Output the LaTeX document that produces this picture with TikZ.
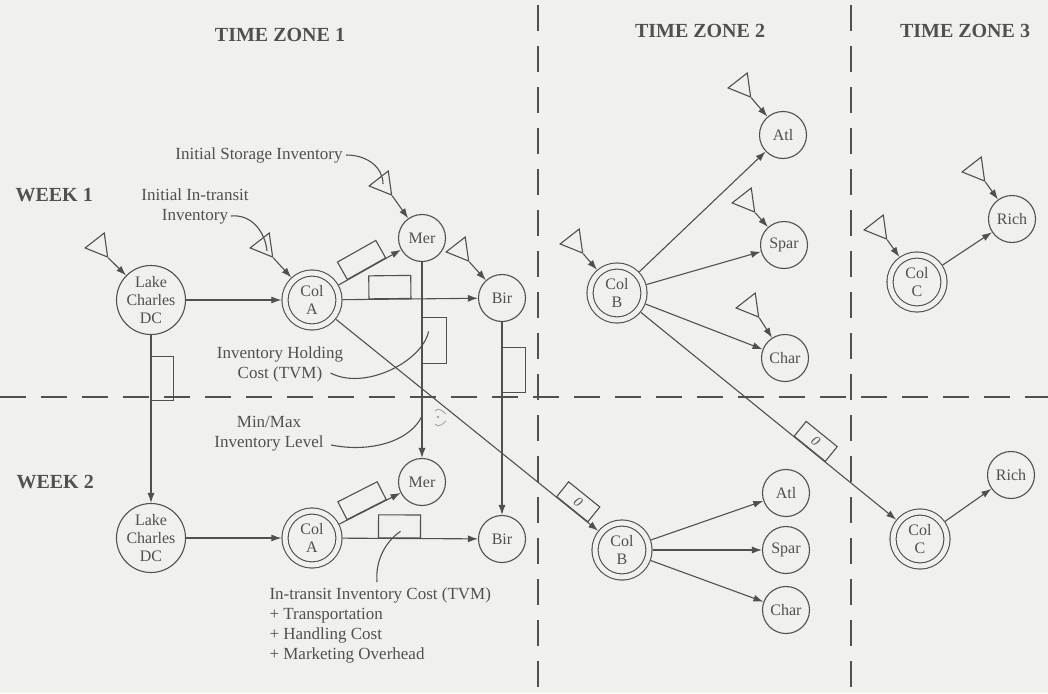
\documentclass[tikz,border=0pt]{standalone}
\usepackage{fontspec}
\setmainfont{Liberation Serif}
\usetikzlibrary{arrows.meta,positioning,shapes.geometric,calc}
\definecolor{ink}{RGB}{80,80,80}
\definecolor{paper}{RGB}{240,240,237}
\begin{document}
\begin{tikzpicture}[
    x=1pt, y=-1pt,
    every node/.style={font=\fontsize{16}{18}\selectfont, text=ink},
    site/.style={draw=ink, circle, line width=1.1pt, minimum size=47pt,
                 inner sep=0pt, align=center},
    dc/.style={site, minimum size=69pt},
    hub/.style={site, double=paper, double distance=5pt, minimum size=54pt,
                outer sep=3.6pt},
    stock/.style={draw=ink, line width=1.1pt, regular polygon,
                  regular polygon sides=3, rotate=98, minimum size=28pt,
                  inner sep=0pt},
    cost/.style={draw=ink, line width=1.1pt, sloped, above, allow upside down,
                 minimum width=44pt, minimum height=22pt, inner sep=0pt,
                 font=\fontsize{14}{14}\selectfont\itshape},
    note/.style={align=center, font=\fontsize{17}{20}\selectfont},
    title/.style={font=\fontsize{20}{22}\selectfont\bfseries},
    arrow/.style={-{Latex[length=10pt,width=7pt]}, draw=ink, line width=1.1pt},
    lead/.style={draw=ink, line width=1.1pt},
    divider/.style={draw=ink, line width=2.3pt, dash pattern=on 26pt off 15pt},
  ]
  \fill[paper] (0,0) rectangle (1048,693);
  \useasboundingbox (0,0) rectangle (1048,693);

  \draw[divider] (538,5) -- (538,693);
  \draw[divider] (851,5) -- (851,693);
  \draw[divider] (0,397) -- (1048,397);

  \node[title] (tz1) at (280,35) {TIME ZONE 1};
  \node[title] (tz2) at (700,31) {TIME ZONE 2};
  \node[title] (tz3) at (965,31) {TIME ZONE 3};
  \node[title, anchor=west] (wk1) at (12,195) {WEEK 1};
  \node[title, anchor=west] (wk2) at (13,482) {WEEK 2};

  % week 1
  \node[dc] (lake1) at (151,300) {Lake\\Charles\\DC};
  \node[hub] (colA1) at (312,300) {Col\\A};
  \node[site] (mer1) at (422,238) {Mer};
  \node[site] (bir1) at (502,298) {Bir};
  \node[hub] (colB1) at (617,293) {Col\\B};
  \node[site] (atl1) at (783,135) {Atl};
  \node[site] (spar1) at (784,245) {Spar};
  \node[site] (char1) at (785,358) {Char};
  \node[hub] (colC1) at (917,282) {Col\\C};
  \node[site] (rich1) at (1012,219) {Rich};

  % week 2
  \node[dc] (lake2) at (151,538) {Lake\\Charles\\DC};
  \node[hub] (colA2) at (312,538) {Col\\A};
  \node[site] (mer2) at (422,482) {Mer};
  \node[site] (bir2) at (502,539) {Bir};
  \node[hub] (colB2) at (622,550) {Col\\B};
  \node[site] (atl2) at (786,493) {Atl};
  \node[site] (spar2) at (786,550) {Spar};
  \node[site] (char2) at (786,610) {Char};
  \node[hub] (colC2) at (920,539) {Col\\C};
  \node[site] (rich2) at (1011,475) {Rich};

  % starting inventories
  \node[stock] (slake1) at (99,246) {};
  \node[stock] (scolA1) at (264,246) {};
  \node[stock] (smer1) at (383,184) {};
  \node[stock] (sbir1) at (460,250) {};
  \node[stock] (scolB1) at (574,242) {};
  \node[stock] (satl1) at (742,86) {};
  \node[stock] (sspar1) at (746,201) {};
  \node[stock] (schar1) at (750,306) {};
  \node[stock] (scolC1) at (878,228) {};
  \node[stock] (srich1) at (976,170) {};
  \draw[arrow] (slake1.corner 2) -- (lake1);
  \draw[arrow] (scolA1.corner 2) -- (colA1);
  \draw[arrow] (smer1.corner 2) -- (mer1);
  \draw[arrow] (sbir1.corner 2) -- (bir1);
  \draw[arrow] (scolB1.corner 2) -- (colB1);
  \draw[arrow] (satl1.corner 2) -- (atl1);
  \draw[arrow] (sspar1.corner 2) -- (spar1);
  \draw[arrow] (schar1.corner 2) -- (char1);
  \draw[arrow] (scolC1.corner 2) -- (colC1);
  \draw[arrow] (srich1.corner 2) -- (rich1);

  \draw[arrow] (lake1) -- (colA1);
  \draw[arrow] (colA1) -- node[cost, pos=0.45, minimum height=20pt] (cam1) {} (mer1);
  \draw[arrow] (colA1) -- node[cost, pos=0.35, minimum width=42pt, minimum height=23pt] (cab1) {} (bir1);
  \draw[arrow] (colA1) -- node[cost, pos=0.9, minimum width=40pt, minimum height=19pt] (zab) {0} (colB2);
  \draw[arrow] (colB1) -- (atl1);
  \draw[arrow] (colB1) -- (spar1);
  \draw[arrow] (colB1) -- (char1);
  \draw[arrow] (colB1) -- node[cost, pos=0.66, minimum width=40pt, minimum height=19pt] (zbc) {0} (colC2);
  \draw[arrow] (colC1) -- (rich1);

  % carried over to week 2
  \draw[arrow] (lake1) -- node[cost, pos=0.26] (hlake) {} (lake2);
  \draw[arrow] (mer1) -- node[cost, pos=0.4, minimum width=46pt, minimum height=24pt] (hmer) {} (mer2);
  \draw[arrow] (bir1) -- node[cost, pos=0.25, minimum width=45pt, minimum height=23pt] (hbir) {} (bir2);

  \draw[arrow] (lake2) -- (colA2);
  \draw[arrow] (colA2) -- node[cost, pos=0.45, minimum height=20pt] (cam2) {} (mer2);
  \draw[arrow] (colA2) -- node[cost, pos=0.42, minimum width=42pt, minimum height=23pt] (cab2) {} (bir2);
  \draw[arrow] (colB2) -- (atl2);
  \draw[arrow] (colB2) -- (spar2);
  \draw[arrow] (colB2) -- (char2);
  \draw[arrow] (colC2) -- (rich2);

  % callouts
  \node[note] (storage) at (259,155) {Initial Storage Inventory};
  \node[note] (intransit) at (195,206) {Initial In-transit\\Inventory};
  \node[note] (holding) at (280,364) {Inventory Holding\\Cost (TVM)};
  \node[note] (minmax) at (269,434) {Min/Max\\Inventory Level};
  \node[note, align=left, anchor=north west] (transit) at (266,584)
    {In-transit Inventory Cost (TVM)\\+ Transportation\\+ Handling Cost\\+ Marketing Overhead};

  \draw[lead] (storage.east) .. controls +(22,0) and +(0,-16) .. (smer1.center);
  \draw[lead] ([shift={(36,10)}]intransit.center) .. controls +(20,-2) and +(-2,-20) .. ([shift={(3,5)}]scolA1.center);
  \draw[lead] ([shift={(-16,9)}]holding.east) .. controls +(34,18) and +(-6,30) .. ([shift={(-6,-9)}]hmer.center);
  \draw[lead] ([shift={(4,11)}]minmax.east) .. controls +(40,8) and +(-12,25) .. ($(mer1)!0.73!(mer2)$);
  \draw[lead] ([shift={(111,-2)}]transit.north west) .. controls +(-2,-25) and +(-12,8) .. ([shift={(1,5)}]cab2.center);

  \coordinate (mm) at (440,417);
  \draw[ink!55, line width=0.8pt] ([shift={(-5,-6)}]mm) .. controls +(3,-4) and +(-3,-3) .. ([shift={(6,-3)}]mm);
  \draw[ink!55, line width=0.8pt] ([shift={(-5,7)}]mm) .. controls +(3,4) and +(-3,3) .. ([shift={(6,4)}]mm);
  \fill[ink!55] ([shift={(-2,0)}]mm) circle (1.3);
\end{tikzpicture}
\end{document}
